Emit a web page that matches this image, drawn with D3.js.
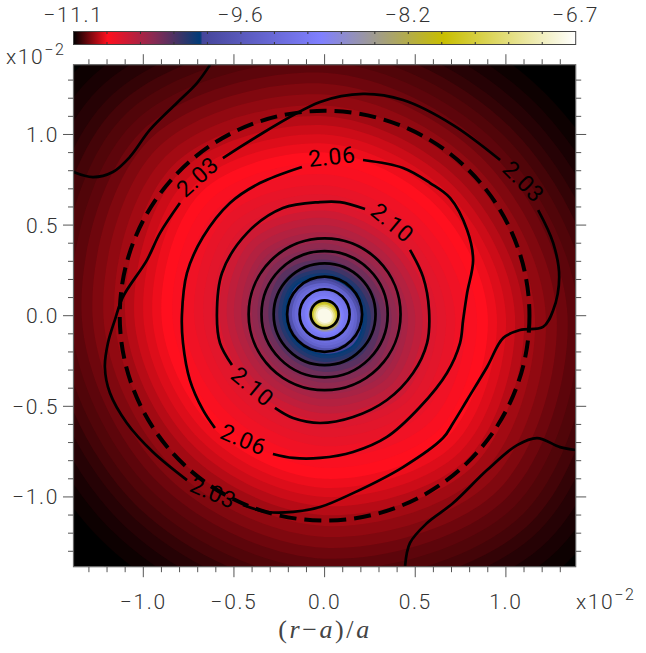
<!DOCTYPE html>
<html>
<head>
<meta charset="utf-8">
<script src="https://cdn.jsdelivr.net/npm/d3@7"></script>
<style>
  html, body { margin: 0; padding: 0; background: #fff; }
  text { font-family: Roboto, "Liberation Sans", sans-serif; }
</style>
</head>
<body>
<div id="chart"></div>
<script>
// Colour bar: log value at each colour stop (the map jumps just after the dark blue)
const barValues = [-11.1, -10.8, -10.4, -9.99, -9.97, -8.93, -7.86, -6.7];
const barColors = ["#000000", "#ff0f1e", "#8a2a52", "#003c78", "#46469a", "#8080ff", "#c8be00", "#ffffff"];
const barLabels = [-11.1, -9.6, -8.2, -6.7];

// Radial profile (radius in 1e-2 units, log value)
const ringRadius = [1.9, 1.8, 1.72, 1.65, 1.58, 1.52, 1.46, 1.4, 1.34, 1.28, 1.22, 1.16, 1.1, 1.05, 1.0, 0.95, 0.9, 0.84, 0.78, 0.72, 0.67, 0.62, 0.58, 0.54, 0.5, 0.46, 0.43, 0.4, 0.37, 0.34, 0.31, 0.28, 0.255, 0.235, 0.22, 0.21, 0.195, 0.18, 0.165, 0.15, 0.135, 0.125, 0.11, 0.1, 0.09, 0.082, 0.075, 0.068, 0.06, 0.05, 0.04];
const ringValue = [-11.1, -11.085, -11.07, -11.055, -11.04, -11.02, -11.005, -10.99, -10.97, -10.95, -10.93, -10.91, -10.885, -10.86, -10.84, -10.82, -10.8, -10.78, -10.75, -10.72, -10.7, -10.68, -10.63, -10.58, -10.54, -10.5, -10.46, -10.42, -10.38, -10.32, -10.25, -10.18, -10.1, -10.04, -10.0, -9.96, -9.75, -9.46, -9.35, -9.25, -9.15, -9.09, -9.0, -8.93, -8.7, -8.3, -7.95, -7.6, -7.3, -7.0, -6.8];

// Ring elongation by angle (degrees, ratio)
const ringAngle = [0, 45, 90, 135, 180, 225, 270, 315];
const ringStretch = [1.0, 0.96, 1.0, 1.06, 1.0, 0.97, 1.0, 1.07];

// Contours, x and y in 1e-2 units
const contourOuterTL = [[-0.632,1.384],[-0.704,1.284],[-0.815,1.174],[-0.964,1.025],[-1.074,0.876],[-1.168,0.793],[-1.278,0.765],[-1.385,0.793]];
const contourOuterBR = [[1.385,-0.741],[1.299,-0.725],[1.172,-0.675],[1.062,-0.714],[0.896,-0.852],[0.709,-1.034],[0.565,-1.144],[0.471,-1.254],[0.444,-1.381]];
const contour203a = [[-0.561,0.870],[-0.025,1.179],[0.212,1.224],[0.433,1.190],[0.709,1.052],[0.968,0.859]];
const contour203b = [[1.178,0.583],[1.261,0.401],[1.294,0.214],[1.261,0.031],[1.205,-0.062],[1.078,-0.079],[0.985,-0.123],[0.896,-0.283],[0.786,-0.465],[0.709,-0.592],[0.653,-0.675],[0.433,-0.835],[0.157,-0.979],[-0.025,-1.056],[-0.174,-1.083],[-0.318,-1.083],[-0.450,-1.045]];
const contour203c = [[-0.759,-0.907],[-0.947,-0.752],[-1.091,-0.592],[-1.184,-0.427],[-1.212,-0.283],[-1.195,-0.151],[-1.157,-0.024],[-1.113,0.103],[-0.980,0.307],[-0.908,0.456],[-0.798,0.622]];
const contour206a = [[0.212,0.859],[0.433,0.815],[0.582,0.732],[0.692,0.650],[0.786,0.473],[0.819,0.307],[0.786,0.125],[0.764,-0.024],[0.747,-0.151],[0.675,-0.316],[0.526,-0.504],[0.344,-0.669],[0.157,-0.752],[-0.025,-0.785],[-0.174,-0.785],[-0.285,-0.763]];
const contour206b = [[-0.605,-0.620],[-0.671,-0.520],[-0.743,-0.355],[-0.781,-0.151],[-0.787,0.004],[-0.759,0.236],[-0.671,0.434],[-0.522,0.622],[-0.357,0.732],[-0.125,0.821]];
const contour210a = [[0.471,0.363],[0.543,0.214],[0.576,0.031],[0.565,-0.151],[0.488,-0.316],[0.344,-0.465],[0.157,-0.559],[-0.025,-0.592],[-0.174,-0.565],[-0.274,-0.509]];
const contour210b = [[-0.511,-0.272],[-0.577,-0.151],[-0.594,0.004],[-0.566,0.236],[-0.428,0.456],[-0.230,0.594],[-0.025,0.627],[0.085,0.627],[0.223,0.589]];
const contours = [contourOuterTL, contourOuterBR, contour203a, contour203b, contour203c, contour206a, contour206b, contour210a, contour210b];

const innerRings = [0.077, 0.138, 0.207, 0.281, 0.348, 0.419];
const dashedRadius = 1.13;

// Contour labels: text, x, y, rotation
const labelText = ["2.06", "2.03", "2.10", "2.03", "2.10", "2.06", "2.03"];
const labelX = [0.04, -0.70, 0.372, 1.095, -0.40, -0.449, -0.616];
const labelY = [0.875, 0.765, 0.511, 0.738, -0.393, -0.686, -0.979];
const labelAngle = [-6, -42, 40, 45, 40, 23, 23];

const xTicks = [-1.0, -0.5, 0.0, 0.5, 1.0];
const width = 646, height = 653;
const plot = {left: 73.5, right: 575.7, top: 64.7, bottom: 566.7};
const bar = {top: 31.5, bottom: 44.5};

const svg = d3.select("#chart").append("svg")
  .attr("width", width)
  .attr("height", height)
  .style("display", "block");

const x = d3.scaleLinear().domain([-1.385, 1.385]).range([plot.left, plot.right]);
const y = d3.scaleLinear().domain([-1.385, 1.385]).range([plot.bottom, plot.top]);
const color = d3.scaleLinear().domain(barValues).range(barColors).interpolate(d3.interpolateRgb);
const barX = d3.scalePoint().domain(barLabels).range([plot.left, plot.right]);

const labelStyle = sel => sel
  .attr("font-size", 21)
  .attr("font-weight", 300)
  .attr("letter-spacing", 1.6)
  .attr("fill", "#333");

// Colour bar
const gradient = svg.append("defs").append("linearGradient").attr("id", "barFill");
barValues.forEach((v, i) => {
  gradient.append("stop")
    .attr("offset", (v + 11.1) / 4.4)
    .attr("stop-color", barColors[i]);
});
svg.append("rect")
  .attr("x", plot.left).attr("y", bar.top)
  .attr("width", plot.right - plot.left).attr("height", bar.bottom - bar.top)
  .attr("fill", "url(#barFill)")
  .attr("stroke", "#444").attr("stroke-width", 1);
d3.range(1, 15).forEach(i => {
  const bx = plot.left + i * (plot.right - plot.left) / 15;
  svg.append("line").attr("x1", bx).attr("x2", bx)
    .attr("y1", bar.top).attr("y2", bar.top + 2.5).attr("stroke", "#333");
  svg.append("line").attr("x1", bx).attr("x2", bx)
    .attr("y1", bar.bottom).attr("y2", bar.bottom - 2.5).attr("stroke", "#333");
});
const minus = v => String(v.toFixed(1)).replace("-", "\u2212");
svg.selectAll(".barlabel").data(barLabels).enter().append("text")
  .attr("x", d => barX(d))
  .attr("y", 22)
  .attr("text-anchor", "middle")
  .call(labelStyle)
  .text(d => minus(d));

// Filled rings, outer first
const g = svg.append("g");
g.append("clipPath").attr("id", "plotClip").append("rect")
  .attr("x", plot.left).attr("y", plot.top)
  .attr("width", plot.right - plot.left).attr("height", plot.bottom - plot.top);
const field = g.append("g").attr("clip-path", "url(#plotClip)");
field.append("rect")
  .attr("x", plot.left).attr("y", plot.top)
  .attr("width", plot.right - plot.left).attr("height", plot.bottom - plot.top)
  .attr("fill", color(-11.1));
const ringLine = d3.lineRadial().curve(d3.curveCardinalClosed.tension(0));
ringRadius.forEach((r, i) => {
  const pts = ringAngle.map((a, j) => [a * Math.PI / 180, (x(r * ringStretch[j]) - x(0))]);
  field.append("path")
    .attr("transform", `translate(${x(0)},${y(0)})`)
    .attr("d", ringLine(pts))
    .attr("fill", color(ringValue[i]));
});

// Contours
const line = d3.line().x(d => x(d[0])).y(d => y(d[1])).curve(d3.curveCatmullRom.alpha(0.5));
contours.forEach(c => {
  field.append("path")
    .attr("d", line(c))
    .attr("fill", "none")
    .attr("stroke", "#000")
    .attr("stroke-width", 2.7);
});
innerRings.forEach(r => {
  field.append("circle")
    .attr("cx", x(0)).attr("cy", y(0.008))
    .attr("r", x(r) - x(0))
    .attr("fill", "none")
    .attr("stroke", "#000")
    .attr("stroke-width", 2.7);
});
field.append("circle")
  .attr("cx", x(0)).attr("cy", y(0))
  .attr("r", x(dashedRadius) - x(0))
  .attr("fill", "none")
  .attr("stroke", "#000")
  .attr("stroke-width", 4)
  .attr("stroke-dasharray", "17,8");

labelText.forEach((t, i) => {
  g.append("text")
    .attr("transform", `translate(${x(labelX[i])},${y(labelY[i])}) rotate(${labelAngle[i]})`)
    .attr("text-anchor", "middle")
    .attr("dominant-baseline", "central")
    .attr("font-size", 23)
    .attr("letter-spacing", 0.6)
    .attr("fill", "#000")
    .text(t);
});

// Axis frame and ticks on all four sides
svg.append("rect")
  .attr("x", plot.left).attr("y", plot.top)
  .attr("width", plot.right - plot.left).attr("height", plot.bottom - plot.top)
  .attr("fill", "none").attr("stroke", "#666").attr("stroke-width", 1.2);

const minorTicks = d3.range(-13, 14).map(d => d / 10);
const tickMark = (x1, y1, x2, y2) => svg.append("line")
  .attr("x1", x1).attr("y1", y1).attr("x2", x2).attr("y2", y2)
  .attr("stroke", "#555").attr("stroke-width", 1);
minorTicks.forEach(t => {
  const major = Math.abs(Math.round(t * 10)) % 5 == 0;
  const len = major ? 10.5 : 5.5;
  tickMark(x(t), plot.bottom, x(t), plot.bottom + len);
  tickMark(x(t), plot.top, x(t), plot.top - len);
  tickMark(plot.left, y(t), plot.left - len, y(t));
  tickMark(plot.right, y(t), plot.right + len, y(t));
});

svg.selectAll(".xlab").data(xTicks).enter().append("text")
  .attr("x", d => x(d)).attr("y", 609)
  .attr("text-anchor", "middle")
  .call(labelStyle)
  .text(d => minus(d));
svg.selectAll(".ylab").data(xTicks).enter().append("text")
  .attr("x", 59).attr("y", d => y(d) + 7.5)
  .attr("text-anchor", "end")
  .call(labelStyle)
  .text(d => minus(d));

// Multipliers
const mult = (px, py) => {
  const t = svg.append("text").attr("x", px).attr("y", py).call(labelStyle);
  t.append("tspan").text("x10");
  t.append("tspan").attr("dy", -9).attr("font-size", 16).text("\u22122");
};
mult(6, 64);
mult(576, 609);

// X axis title
const title = svg.append("text")
  .attr("x", 325).attr("y", 638)
  .attr("text-anchor", "middle")
  .attr("font-size", 26)
  .attr("letter-spacing", 2.6)
  .attr("fill", "#444")
  .style("font-family", "'Liberation Serif', serif");
title.append("tspan").text("(");
title.append("tspan").attr("font-style", "italic").text("r");
title.append("tspan").text("\u2212");
title.append("tspan").attr("font-style", "italic").text("a");
title.append("tspan").text(")/");
title.append("tspan").attr("font-style", "italic").text("a");
</script>
</body>
</html>
